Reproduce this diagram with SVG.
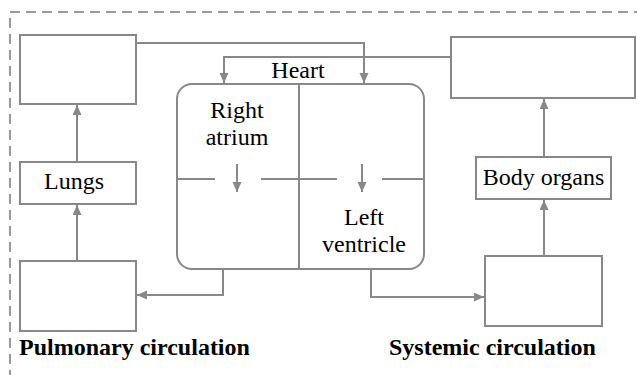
<svg xmlns="http://www.w3.org/2000/svg" width="637" height="375" viewBox="0 0 637 375">
<defs>
<marker id="ah" markerUnits="userSpaceOnUse" markerWidth="11" markerHeight="10" refX="10" refY="4.5" orient="auto">
<path d="M0,0 L10,4.5 L0,9 z" fill="#888"/>
</marker>
<style>
.box{fill:#fff;stroke:#888;stroke-width:2}
.ln{fill:none;stroke:#888;stroke-width:2}
text{font-family:Liberation Serif,Times New Roman,Times,serif;font-size:24px;fill:#000}
.t{text-anchor:middle}
.b{font-weight:bold}
.frame{fill:none;stroke:#999;stroke-width:2;stroke-dasharray:10 6}
</style>
</defs>
<rect width="637" height="375" fill="#fff"/>
<path class="frame" d="M10,380 V12 H640"/>

<g id="connectors">
<path class="ln" d="M136,43 H364 V83" marker-end="url(#ah)"/>
<path class="ln" d="M451,57 H224 V83" marker-end="url(#ah)"/>
<path class="ln" d="M77,162 V105" marker-end="url(#ah)"/>
<path class="ln" d="M77,261 V205" marker-end="url(#ah)"/>
<path class="ln" d="M544,157 V99" marker-end="url(#ah)"/>
<path class="ln" d="M544,256 V200" marker-end="url(#ah)"/>
<path class="ln" d="M223,269 V295 H137" marker-end="url(#ah)"/>
<path class="ln" d="M371,269 V297 H484" marker-end="url(#ah)"/>
</g>

<g id="lungs-top"><rect class="box" x="20" y="35" width="116" height="69"/></g>
<g id="lungs"><rect class="box" x="20" y="162" width="116" height="42"/><text class="t" x="74" y="189" font-family="Liberation Serif">Lungs</text></g>
<g id="pulmonary-bottom"><rect class="box" x="20" y="261" width="116" height="70"/></g>
<g id="systemic-top"><rect class="box" x="451" y="37" width="184" height="61"/></g>
<g id="body-organs"><rect class="box" x="476" y="157" width="135" height="42"/><text class="t" x="543.5" y="185">Body organs</text></g>
<g id="systemic-bottom"><rect class="box" x="485" y="256" width="117" height="70"/></g>

<g id="heart">
<rect class="box" x="177" y="84" width="247" height="185" rx="15" ry="15"/>
<line class="ln" x1="299" y1="84" x2="299" y2="268"/>
<path class="ln" d="M177,179 H215 M261,179 H337 M382,179 H424"/>
<path class="ln" d="M237,164 V192" marker-end="url(#ah)"/>
<path class="ln" d="M362,164 V192" marker-end="url(#ah)"/>
<text class="t" x="298" y="78">Heart</text>
<text class="t" x="237" y="118">Right</text>
<text class="t" x="237" y="145">atrium</text>
<text class="t" x="364" y="225">Left</text>
<text class="t" x="364" y="252">ventricle</text>
</g>

<text class="b" x="19" y="355">Pulmonary circulation</text>
<text class="b" x="389" y="355">Systemic circulation</text>
</svg>
